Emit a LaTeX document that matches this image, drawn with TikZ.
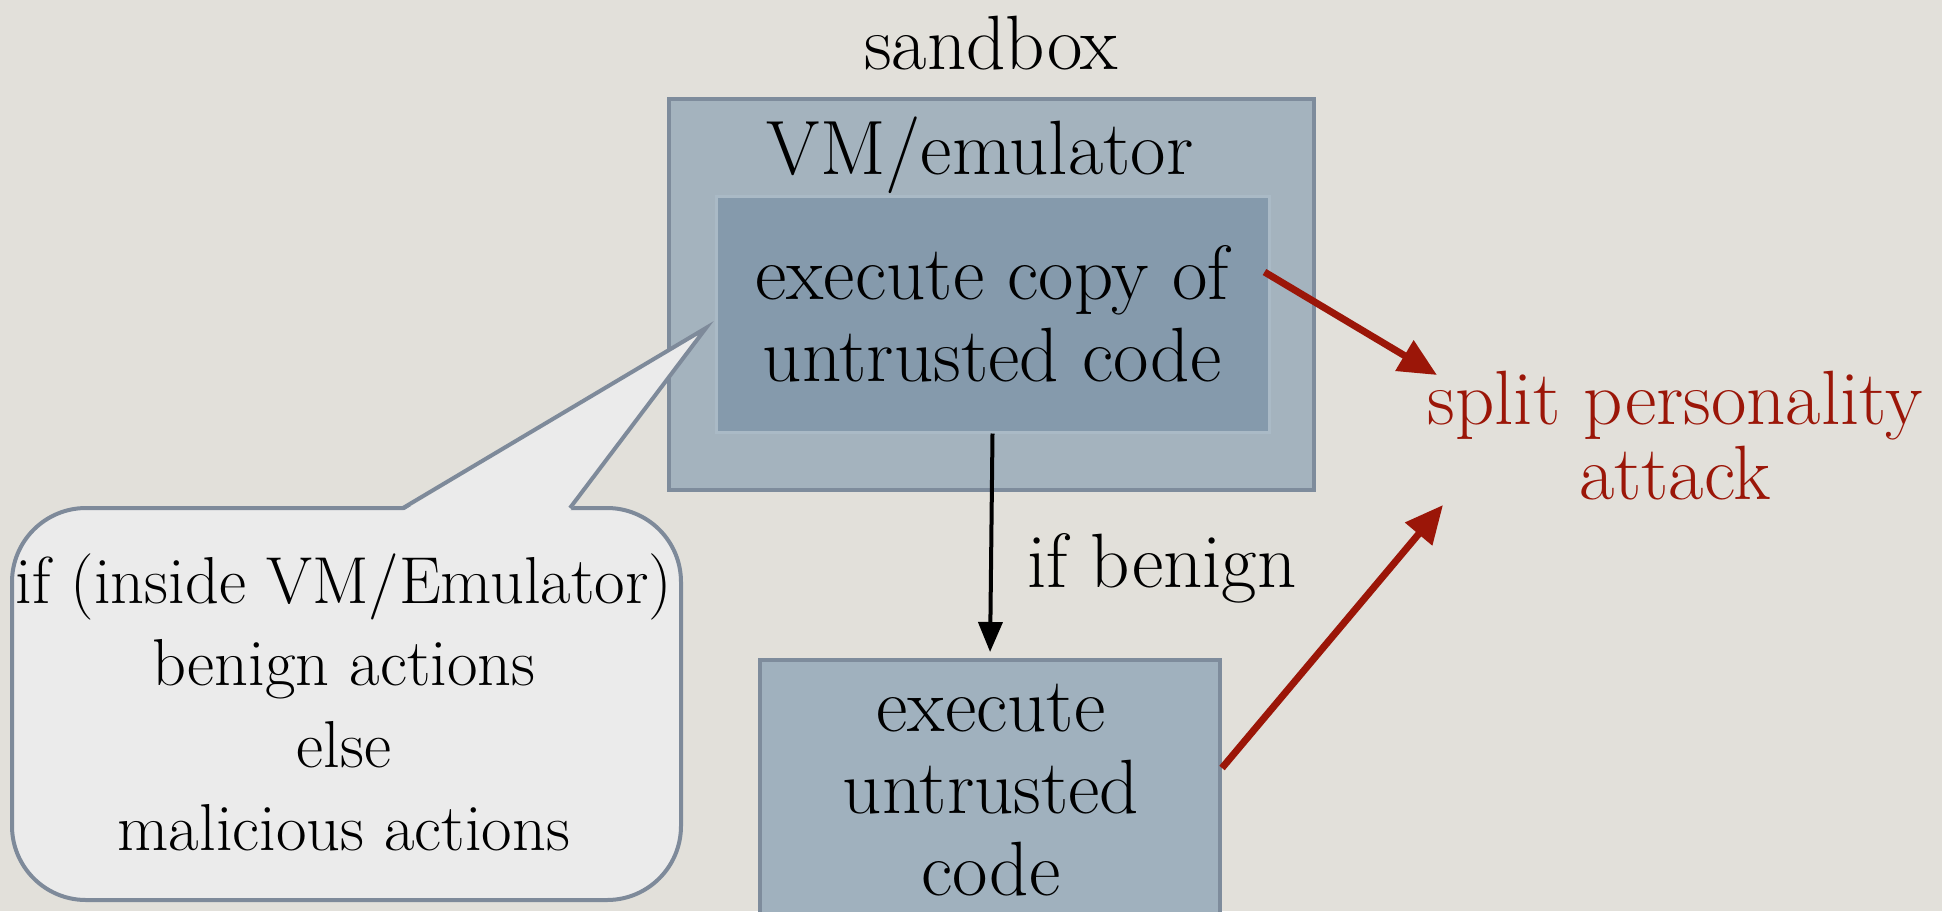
\documentclass[tikz,border=0pt]{standalone}
\usepackage{fontspec}
\usetikzlibrary{arrows.meta,calc}
\definecolor{bg}{RGB}{226,224,218}
\definecolor{outerfill}{RGB}{164,179,190}
\definecolor{outerdraw}{RGB}{126,140,156}
\definecolor{innerfill}{RGB}{133,154,172}
\definecolor{innerdraw}{RGB}{170,186,198}
\definecolor{lowfill}{RGB}{160,177,190}
\definecolor{lowdraw}{RGB}{126,140,156}
\definecolor{bubfill}{RGB}{235,235,235}
\definecolor{bubdraw}{RGB}{126,138,154}
\definecolor{darkred}{RGB}{155,22,8}
\tikzset{
  big/.style={font=\fontsize{38.5}{41}\selectfont, align=center, inner sep=0pt},
  bubtxt/.style={font=\fontsize{33.2}{41.2}\selectfont, align=center, inner sep=0pt},
  redtxt/.style={font=\fontsize{38.5}{37.5}\selectfont, align=center, inner sep=0pt, text=darkred},
  boxouter/.style={draw=outerdraw, fill=outerfill, line width=2pt, inner sep=0pt},
  boxinner/.style={draw=innerdraw, fill=innerfill, line width=1.5pt, inner sep=0pt},
  boxlow/.style={draw=lowdraw, fill=lowfill, line width=2pt, inner sep=0pt},
  bubble/.style={draw=bubdraw, fill=bubfill, line width=2pt, rounded corners=37pt, inner sep=0pt},
  blackarrow/.style={line width=2pt, -{Triangle[length=15pt,width=12pt]}},
  redarrow/.style={draw=darkred, line width=3.5pt, -{Triangle[length=19pt,width=17pt]}},
}
\begin{document}
\begin{tikzpicture}[x=0.5pt,y=-0.5pt]
\fill[bg] (0,0) rectangle (1942,911);
\useasboundingbox (0,0) rectangle (1942,911);
\clip (0,0) rectangle (1942,911);

% boxes
\node[boxouter, minimum width=322.5pt, minimum height=195.5pt] (outer) at (991.5,294.5) {};
\node[boxinner, minimum width=276.5pt, minimum height=118pt] (inner) at (992.5,314) {};
\node[boxlow, minimum width=230pt, minimum height=140pt] (low) at (990,800) {};

% speech bubble
\node[bubble, minimum width=334.5pt, minimum height=196pt] (bub) at (346.5,704) {};
\coordinate (tip) at (706,328);
\fill[bubfill] (403,511) -- (tip) -- (570,511) -- cycle;
\draw[bubdraw, line width=2pt, line join=miter] (403,508) -- (tip) -- (570,508);

% texts
\node[big] (sandbox) at (991,43) {sandbox};
\node[big] (vmlabel) at (980,155) {VM/emulator};
\node[big] (innertext) at (992,314) {execute copy of\\untrusted code};
\node[big] (lowtext) at (991,790) {execute\\untrusted\\code};
\node[bubtxt] (bubtext) at (344,702) {if (inside VM/Emulator)\\benign actions\\else\\malicious actions};
\node[redtxt] (split) at (1675,436) {split personality\\attack};

% connectors
\draw[blackarrow, shorten >=3pt] (inner.south) -- (low.north) node[big, pos=0.6, right=17pt] (ifb) {if benign};
\coordinate (t1) at (1437,375);
\coordinate (t2) at (1443,505);
\draw[redarrow] ($(inner.east)+(-6,-42)$) -- (t1);
\draw[redarrow] ($(low.east)+(0,-32)$) -- (t2);
\end{tikzpicture}
\end{document}
